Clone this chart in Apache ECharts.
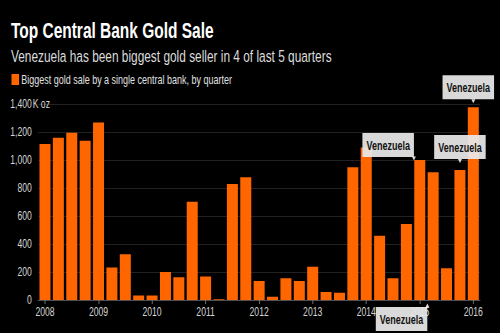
<!DOCTYPE html>
<html>
<head>
<meta charset="utf-8">
<script src="https://cdn.jsdelivr.net/npm/echarts@6/dist/echarts.min.js"></script>
<style>
  html, body { margin: 0; padding: 0; background: #000; overflow: hidden; width: 500px; height: 333px; }
  /* The chart is laid out wider and squeezed horizontally to get a condensed type look */
  #chart { height: 333px; transform-origin: 0 0; }
</style>
</head>
<body>
<div id="chart"></div>
<script>
// Quarterly categories, 2008 Q1 .. 2016 Q1
const quarters = [
  '2008 Q1','2008 Q2','2008 Q3','2008 Q4',
  '2009 Q1','2009 Q2','2009 Q3','2009 Q4',
  '2010 Q1','2010 Q2','2010 Q3','2010 Q4',
  '2011 Q1','2011 Q2','2011 Q3','2011 Q4',
  '2012 Q1','2012 Q2','2012 Q3','2012 Q4',
  '2013 Q1','2013 Q2','2013 Q3','2013 Q4',
  '2014 Q1','2014 Q2','2014 Q3','2014 Q4',
  '2015 Q1','2015 Q2','2015 Q3','2015 Q4',
  '2016 Q1'
];

// Biggest sale by a single central bank, thousand ounces
const biggestSale = [
  1115, 1159, 1195, 1138,
  1267, 233, 326, 33,
  33, 200, 162, 702,
  167, 5, 829, 876,
  136, 24, 155, 136,
  238, 57, 52, 948,
  1090, 459, 155, 543,
  1000, 912, 226, 929,
  1376
];

// Quarters where the top seller is named
const sellerQuarters = ['2015 Q1', '2015 Q2', '2015 Q4', '2016 Q1'];
const sellerNames = ['Venezuela', 'Venezuela', 'Venezuela', 'Venezuela'];

const yTicks = [0, 200, 400, 600, 800, 1000, 1200, 1400];

// Horizontal squeeze factor; x measurements below are given in screen pixels and divided by it
const SX = 0.72;
const W = 500 / SX;
const px = v => v / SX;

const FONT = "'Liberation Sans', Arial, sans-serif";
const ORANGE = '#ff6600';
const CALLOUT_BG = 'rgba(234,234,234,0.93)';

// Callout placement per named quarter (label side, gap to bar, horizontal nudge, tail spot)
const calloutPlacement = {
  '2015 Q1': { position: 'top',    distance: 3,  dx: -31.6, tail: { dx: -5.8, dy: -1.5, rot: 180, onZero: false } },
  '2015 Q2': { position: 'bottom', distance: 7,  dx: -31.6, tail: { dx: -5.8, dy: 5.5,  rot: 0,   onZero: true } },
  '2015 Q4': { position: 'top',    distance: 11, dx: 0,     tail: { dx: 0,    dy: -9,   rot: 180, onZero: false } },
  '2016 Q1': { position: 'top',    distance: 8,  dx: -5,    tail: { dx: 0,    dy: -6,   rot: 180, onZero: false } }
};

const barData = biggestSale.map((v, i) => {
  const q = quarters[i];
  const k = sellerQuarters.indexOf(q);
  if (k < 0) return v;
  const p = calloutPlacement[q];
  return {
    value: v,
    label: {
      show: true,
      formatter: sellerNames[k],
      position: p.position,
      distance: p.distance,
      color: '#111',
      fontFamily: FONT,
      fontWeight: 'bold',
      fontSize: 12.5,
      lineHeight: 14,
      backgroundColor: CALLOUT_BG,
      padding: [5, px(4), 5, px(4)]
    }
  };
});

// Small pointer tails under/over the callout boxes
const tails = sellerQuarters.map(q => {
  const t = calloutPlacement[q].tail;
  const v = biggestSale[quarters.indexOf(q)];
  return {
    coord: [q, t.onZero ? 0 : v],
    symbol: 'triangle',
    symbolSize: [px(4), 4],
    symbolRotate: t.rot,
    symbolOffset: [px(t.dx), t.dy],
    itemStyle: { color: CALLOUT_BG },
    label: { show: false }
  };
});

const el = document.getElementById('chart');
el.style.width = W + 'px';
el.style.transform = 'scaleX(' + SX + ')';

const chart = echarts.init(el, null, { renderer: 'svg', width: W, height: 333 });

chart.setOption({
  backgroundColor: '#000',
  animation: false,
  title: {
    text: 'Top Central Bank Gold Sale',
    subtext: 'Venezuela has been biggest gold seller in 4 of last 5 quarters',
    left: px(11),
    top: 20,
    padding: 0,
    itemGap: 6,
    textStyle: { color: '#fff', fontSize: 21.5, fontWeight: 'bold', fontFamily: FONT },
    subtextStyle: { color: '#dcdcdc', fontSize: 16.5, fontFamily: FONT }
  },
  legend: {
    left: px(11.5),
    top: 73,
    padding: 0,
    icon: 'rect',
    itemWidth: px(7.6),
    itemHeight: 11,
    itemGap: 4,
    textStyle: { color: '#e0e0e0', fontSize: 12.5, fontFamily: FONT, padding: [1, 0, 0, px(-1.5)] },
    data: ['Biggest gold sale by a single central bank, by quarter']
  },
  grid: { left: px(38.3), right: px(20), top: 104, bottom: 33 },
  xAxis: {
    type: 'category',
    data: quarters,
    axisLine: { show: true, lineStyle: { color: '#5a5a5a', width: 1 } },
    axisTick: { show: true, interval: 3, alignWithLabel: true, length: 4, lineStyle: { color: '#808080' } },
    axisLabel: {
      interval: 3,
      color: '#d4d4d4',
      fontSize: 12,
      fontFamily: FONT,
      margin: 6,
      formatter: v => v.slice(0, 4)
    },
    splitLine: { show: false }
  },
  yAxis: [{
    type: 'value',
    min: yTicks[0],
    max: yTicks[yTicks.length - 1],
    interval: 200,
    axisLine: { show: false },
    axisTick: { show: false },
    axisLabel: {
      color: '#d4d4d4',
      fontSize: 12,
      fontFamily: FONT,
      margin: px(6.5),
      formatter: v => v.toLocaleString('en-US')
    },
    splitLine: { show: true, lineStyle: { color: '#282828', width: 1 } }
  }, {
    // unit suffix next to the top tick label
    type: 'value',
    position: 'left',
    min: yTicks[0],
    max: yTicks[yTicks.length - 1],
    interval: 200,
    axisLine: { show: false },
    axisTick: { show: false },
    splitLine: { show: false },
    axisLabel: {
      color: '#d4d4d4',
      fontSize: 12,
      fontFamily: FONT,
      align: 'left',
      margin: px(5.6),
      formatter: v => (v === yTicks[yTicks.length - 1] ? 'K oz' : '')
    }
  }],
  series: [{
    name: 'Biggest gold sale by a single central bank, by quarter',
    type: 'bar',
    data: barData,
    barWidth: px(11),
    itemStyle: { color: ORANGE },
    label: { show: false },
    // shift the named-seller callouts sideways off their bars
    labelLayout: params => {
      const p = calloutPlacement[quarters[params.dataIndex]];
      return p ? { dx: px(p.dx) } : {};
    },
    markPoint: { silent: true, data: tails }
  }]
});
</script>
</body>
</html>
